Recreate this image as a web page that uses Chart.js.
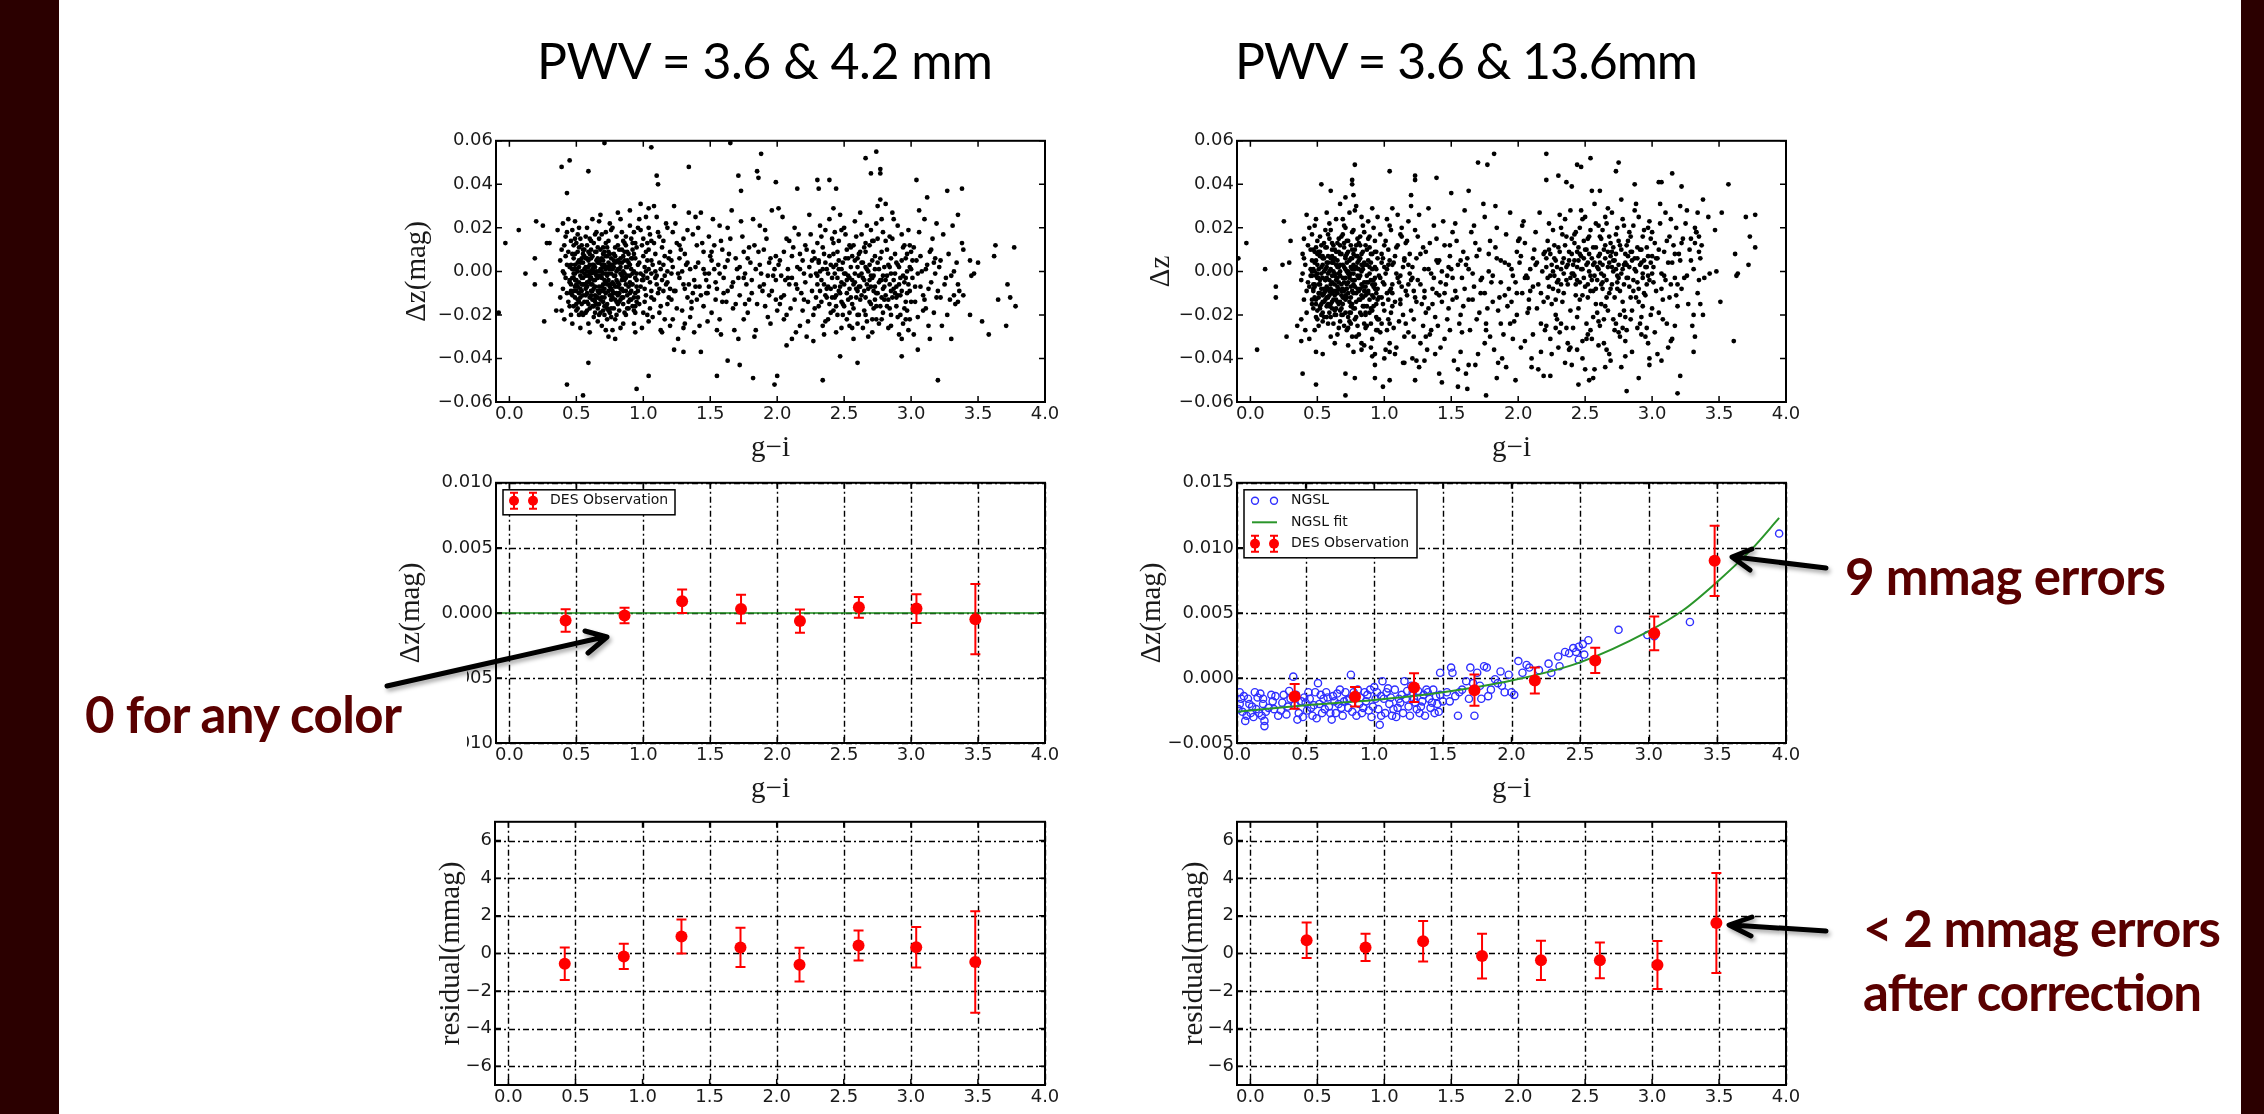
<!DOCTYPE html>
<html>
<head>
<meta charset="utf-8">
<script src="https://cdn.jsdelivr.net/npm/chart.js@4.4.1/dist/chart.umd.min.js"></script>
<style>
  html, body { margin: 0; padding: 0; }
  body { width: 2264px; height: 1114px; overflow: hidden; background: #fff; position: relative; }
  .stripe { position: absolute; top: 0; height: 1114px; background: #2b0000; }
  canvas { position: absolute; }
  #overlay { position: absolute; left: 0; top: 0; }
</style>
</head>
<body>
<div class="stripe" style="left:0;width:59px"></div>
<div class="stripe" style="left:2241px;width:23px"></div>

<canvas id="topLeft"></canvas>
<canvas id="topRight"></canvas>
<canvas id="midLeft"></canvas>
<canvas id="midRight"></canvas>
<canvas id="botLeft"></canvas>
<canvas id="botRight"></canvas>

<svg id="overlay" width="2264" height="1114" xmlns="http://www.w3.org/2000/svg">
  <defs>
    <filter id="shadow" x="-10%" y="-80%" width="130%" height="300%">
      <feDropShadow dx="2" dy="3" stdDeviation="2" flood-color="#000" flood-opacity="0.35"/>
    </filter>
  </defs>
  <!-- text box of the left annotation hides part of the tick labels -->
  <rect x="59" y="664" width="408" height="136" fill="#fff"/>
  <g font-family="Lato, 'Open Sans', sans-serif" fill="#000" font-size="50">
    <text x="537" y="79" textLength="456">PWV = 3.6 &amp; 4.2 mm</text>
    <text x="1235" y="79" textLength="463">PWV = 3.6 &amp; 13.6mm</text>
  </g>
  <g font-family="Lato, 'Open Sans', sans-serif" font-weight="bold" font-size="51" fill="#5a0000">
    <text x="85" y="733" textLength="317">0 for any color</text>
    <text x="1845" y="595" textLength="321">9 mmag errors</text>
    <text x="1863" y="947" textLength="358">&lt; 2 mmag errors</text>
    <text x="1863" y="1011" textLength="339">after correction</text>
  </g>
  <g stroke="#000" stroke-width="5" fill="none" stroke-linecap="round" stroke-linejoin="round" filter="url(#shadow)">
    <path d="M387 686 L604 637 M585 631 L607 637 L588 653"/>
    <path d="M1826 568 L1735 557 M1752 549 L1732 557 L1750 570"/>
    <path d="M1826 931 L1732 925 M1752 917 L1729 925 L1751 936"/>
  </g>
</svg>

<script>
// axis ticks
const giTicks = [0, 0.5, 1, 1.5, 2, 2.5, 3, 3.5, 4];
const dzWideTicks = [-0.06, -0.04, -0.02, 0, 0.02, 0.04, 0.06];
const dzLowTicks = [-0.01, -0.005, 0, 0.005, 0.01];
const dzHighTicks = [-0.005, 0, 0.005, 0.01, 0.015];
const residTicks = [-6, -4, -2, 0, 2, 4, 6];

// stars, PWV 3.6 & 4.2 mm : pairs of (g-i x100, dz in mmag)
const scatterLowPwv = [
  38,5, 40,-8, 41,12, 42,-3, 43,18, 44,-14, 45,2, 39,-18, 40,22, 41,-1, 42,7, 43,-10, 44,9, 45,-5, 46,14, 38,-12, 46,-20, 44,24, 41,-22, 43,3, 45,-16, 42,16, 40,0, 46,-9, 39,10,
  47,-3, 48,6, 49,-12, 50,1, 51,-7, 52,11, 53,-2, 54,-15, 55,4, 47,19, 48,-9, 49,3, 50,-18, 51,9, 52,-5, 53,15, 54,0, 55,-11, 56,7, 47,-24, 49,23, 50,-4, 51,-13, 52,2, 53,-8, 54,12, 55,-20, 56,-1, 48,-16, 50,13, 52,-10, 54,6, 56,-6, 47,8, 49,-1, 51,17, 53,-26, 55,10, 56,-14, 48,1, 50,-9, 52,20, 54,-3, 49,-7, 53,5,
  57,2, 58,-10, 59,5, 60,-4, 61,14, 62,-13, 63,0, 64,-7, 65,9, 66,-17, 57,-6, 58,12, 59,-15, 60,3, 61,-9, 62,7, 63,-21, 64,17, 65,-2, 66,4, 57,-19, 58,0, 59,9, 60,-12, 61,-3, 62,24, 63,-8, 64,2, 65,-15, 66,11, 57,16, 58,-5, 59,-24, 60,8, 61,-1, 62,-6, 63,13, 64,-11, 65,5, 66,-9, 57,-11, 58,20, 59,-2, 60,-28, 61,6, 62,-16, 63,3, 64,-4, 65,18, 66,-23, 58,-14, 60,15, 62,1, 64,-19, 66,-3,
  67,0, 68,-9, 69,6, 70,-14, 71,3, 72,-5, 73,11, 74,-18, 75,1, 76,-8, 67,15, 68,-2, 69,-12, 70,8, 71,-20, 72,13, 73,-6, 74,4, 75,-11, 76,19, 67,-7, 68,10, 69,-25, 70,-1, 71,9, 72,-16, 73,2, 74,-4, 75,22, 76,-13, 67,-15, 68,5, 69,17, 70,-9, 71,-4, 72,1, 73,-22, 74,14, 75,-6, 76,6, 67,23, 68,-19, 69,0, 70,11, 71,-12, 72,-27, 73,7, 74,-9, 75,3, 76,-1, 68,26, 70,-6, 72,18, 74,-30, 76,-17,
  77,3, 78,-10, 79,7, 80,-4, 81,-15, 82,10, 83,-1, 84,-8, 85,14, 86,-19, 77,-12, 78,2, 79,-22, 80,16, 81,5, 82,-6, 83,-13, 84,4, 85,-3, 86,9, 77,20, 78,-17, 79,-2, 80,-10, 81,12, 82,1, 83,-26, 84,18, 85,-9, 86,-4, 77,-5, 79,11, 81,-7, 83,24, 85,0, 78,8, 80,-20, 82,-14, 84,-2, 86,13, 77,-27, 79,-31, 81,27, 83,6, 85,-24,
  87,2, 88,-11, 89,8, 90,-5, 91,15, 92,-16, 93,0, 94,-3, 95,11, 96,-9, 87,-20, 88,5, 89,-7, 90,21, 91,-13, 92,6, 93,-24, 94,13, 95,-1, 96,3, 87,12, 89,-17, 91,1, 93,18, 95,-14, 88,-2, 90,-10, 92,-6, 94,-19, 96,20, 87,-6, 90,28, 92,10, 94,-28, 96,-12,
  97,4, 98,-7, 99,12, 100,-2, 101,-14, 102,9, 103,-20, 104,1, 105,17, 106,-9, 97,-15, 98,19, 99,-4, 100,7, 101,2, 102,-11, 103,13, 104,-23, 105,-5, 106,5, 97,24, 98,-1, 99,-26, 100,15, 101,-8, 102,25, 103,-3, 104,10, 105,-17, 106,-1, 98,31, 100,-19, 102,0, 104,29, 106,14,
  107,3, 108,-13, 109,8, 110,-6, 111,18, 112,-19, 113,1, 114,11, 115,-9, 116,-2, 117,22, 118,-15, 119,6, 120,-25, 107,-21, 108,13, 109,-3, 110,25, 111,-10, 112,4, 113,-16, 114,-28, 115,14, 116,7, 117,-6, 118,0, 119,-12, 120,9, 108,30, 110,-2, 112,16, 114,-4, 116,-22, 118,20, 120,-8,
  121,5, 123,-9, 125,13, 127,-3, 129,-18, 131,8, 133,-12, 135,1, 137,17, 139,-7, 122,-22, 124,22, 126,-1, 128,10, 130,-26, 132,3, 134,27, 136,-14, 138,-4, 140,12, 121,-13, 123,30, 125,-17, 127,6, 129,0, 131,-8, 133,19, 135,-21, 137,-10, 139,25, 122,2, 126,-31, 130,15, 134,-6, 138,-28,
  141,4, 143,-11, 145,9, 147,-4, 149,16, 151,-19, 153,1, 155,-8, 157,21, 159,-14, 142,-25, 144,13, 146,-1, 148,-23, 150,7, 152,24, 154,-13, 156,3, 158,-29, 160,-3, 141,20, 145,-16, 149,-7, 153,12, 157,-22, 143,27, 147,-10, 151,5, 155,-27, 159,10,
  161,2, 163,-9, 165,15, 167,-17, 169,6, 171,-3, 173,23, 175,-22, 177,-6, 179,11, 162,-14, 164,8, 166,28, 168,-27, 170,1, 172,-11, 174,16, 176,-1, 178,-19, 180,4, 163,20, 167,-5, 171,-31, 175,9, 179,-13,
  181,-4, 183,12, 185,-15, 187,3, 189,-9, 191,19, 193,-21, 195,6, 197,-2, 199,-13, 182,24, 184,-27, 186,9, 188,-1, 190,-6, 192,15, 194,-11, 196,28, 198,1, 200,-18, 183,-30, 187,21, 191,-16, 195,-24, 199,7,
  201,3, 203,-12, 205,9, 207,-20, 209,14, 211,-3, 213,20, 215,-8, 217,-25, 219,5, 202,-15, 204,25, 206,-4, 208,1, 210,-17, 212,11, 214,-28, 216,17, 218,-10, 220,-1, 201,29, 205,-22, 209,-6, 213,-13, 217,8, 203,-2, 207,15, 211,-31, 215,2, 219,-18,
  221,-5, 222,10, 223,-14, 224,2, 225,17, 226,-9, 227,-20, 228,6, 229,-1, 230,13, 231,-16, 232,21, 233,-4, 234,-25, 235,8, 236,-11, 237,1, 238,-7, 239,24, 240,-19, 221,12, 223,-23, 225,-2, 227,9, 229,-12, 231,4, 233,16, 235,-29, 237,-8, 239,-15, 222,-30, 224,26, 226,5, 228,-17, 230,-6, 232,0, 234,11, 236,19, 238,-22, 240,3,
  241,-3, 242,8, 243,-12, 244,3, 245,-20, 246,14, 247,-7, 248,1, 249,-15, 250,20, 251,-1, 252,-10, 253,6, 254,-25, 255,11, 256,-4, 257,-17, 258,23, 259,-8, 260,2, 241,15, 242,-18, 243,-1, 244,-28, 245,9, 246,-9, 247,26, 248,-14, 249,4, 250,-6, 251,17, 252,-22, 253,-2, 254,12, 255,-12, 256,7, 257,-31, 258,-5, 259,16, 260,-20, 242,29, 244,-11, 246,1, 248,19, 250,-16, 252,10, 254,-3, 256,-26, 258,5, 260,-9,
  261,-2, 262,9, 263,-11, 264,4, 265,-18, 266,13, 267,-6, 268,0, 269,-14, 270,19, 271,-3, 272,-9, 273,7, 274,-22, 275,15, 276,-5, 277,-16, 278,24, 279,-8, 280,2, 261,-20, 262,27, 263,-1, 264,-26, 265,11, 266,-12, 267,21, 268,-30, 269,3, 270,-7, 271,14, 272,-17, 273,1, 274,-10, 275,30, 276,-24, 277,6, 278,-4, 279,18, 280,-13, 261,8, 263,17, 265,-4, 267,-23, 269,12, 271,-28, 273,-13, 275,4, 277,33, 279,-19, 262,-7, 266,2, 270,-2, 274,22, 278,-12,
  281,-4, 282,10, 283,-13, 284,2, 285,-20, 286,15, 287,-8, 288,-1, 289,-16, 290,21, 291,-6, 292,-11, 293,5, 294,-24, 295,12, 296,-3, 297,-18, 298,19, 299,-9, 300,1, 281,14, 283,-26, 285,6, 287,24, 289,-12, 291,-29, 293,17, 295,-5, 297,8, 299,-22, 282,-2, 284,-17, 286,27, 288,-10, 290,3, 292,-20, 294,11, 296,-14, 298,-27, 300,9, 281,31, 285,-9, 289,4, 293,-31, 297,0,
  301,-3, 302,11, 303,-14, 304,5, 305,-21, 306,18, 307,-7, 308,0, 309,-11, 310,24, 311,-17, 312,3, 313,-25, 314,9, 315,-5, 316,15, 317,-19, 318,-1, 319,22, 320,-9, 302,-29, 306,28, 310,-13, 314,-31, 318,6,
  321,2, 322,-12, 324,17, 325,-6, 327,-20, 328,8, 330,-2, 331,21, 333,-15, 334,4, 336,-9, 338,13, 323,-25, 335,26,
  45,-4, 46,3, 47,-11, 48,-1, 49,8, 50,-6, 51,0, 52,-14, 53,4, 54,-9, 55,-3, 56,1, 57,-8, 58,6, 59,-5, 60,-1, 61,-11, 62,3, 63,-4, 64,9, 65,-12, 66,-2, 67,4, 68,-13, 69,-3, 70,2, 71,-8, 72,7, 73,-15, 74,-1, 75,-7, 76,3, 77,-9, 78,5, 79,-13, 80,0, 81,-5, 82,4, 83,-8, 84,10, 85,-12, 86,-1, 87,-9, 88,2, 89,-14, 90,3, 91,-6, 92,-1, 93,8, 94,-10, 95,-4,
  46,-10, 48,12, 50,-15, 52,5, 54,-19, 56,10, 58,-7, 60,-17, 62,-9, 64,-14, 66,6, 68,1, 70,-18, 72,-10, 74,9, 76,-21, 78,-6, 80,-14, 82,-18, 84,-12, 86,5, 88,-17, 90,-13, 92,13, 94,6,
  47,1, 49,-4, 51,-17, 53,-12, 55,8, 57,-2, 59,2, 61,10, 63,-13, 65,0, 67,-10, 69,3, 71,-16, 73,-2, 75,8, 77,1, 79,4, 81,-11, 83,2, 85,7, 87,-3, 89,4, 91,-9, 93,-12, 95,-7,
  46,-6, 49,15, 52,-20, 55,-6, 58,-18, 61,-6, 64,-1, 67,-20, 70,5, 73,-17, 76,-11, 79,-7, 82,-10, 85,-15, 88,9, 91,6, 94,-16,
  48,-3, 51,4, 54,-6, 57,6, 60,0, 63,-16, 66,-12, 69,-7, 72,-1, 75,-19, 78,-2, 81,1, 84,-4, 87,16, 90,-2, 93,-18,
  100,-4, 103,5, 106,-12, 109,0, 112,-8, 115,3, 118,-5, 121,-1, 124,-9, 127,12, 130,-6, 133,4, 136,-17, 139,2, 142,-7, 145,1, 148,-10, 151,9, 154,-5, 157,-1, 160,-10, 163,5, 166,-7, 169,-15, 172,2, 175,-3, 178,6, 181,-10, 184,1, 187,-7, 190,10, 193,-2, 196,-9, 199,-4, 202,5, 205,-11, 208,-3, 211,7, 214,-6, 217,1, 220,-13, 104,20, 113,-27, 122,18, 131,-24, 140,-13, 149,-1, 158,14, 176,-15, 194,4,
  230,-2, 231,5, 232,-9, 233,-14, 234,1, 235,-6, 236,4, 237,-12, 238,-1, 239,7, 240,-8, 241,-12, 242,2, 243,-7, 244,-16, 245,-3, 246,5, 247,-10, 248,-5, 249,-20, 250,-1, 251,6, 252,-4, 253,-13, 254,-8, 255,2, 256,-15, 257,-6, 258,-1, 259,-12, 260,6, 261,-7, 262,-13, 263,4, 264,-3, 265,-9, 266,-20, 267,1, 268,-8, 269,-4, 270,-15, 271,5, 272,-2, 273,-7, 274,-16, 275,-10, 276,1, 277,-4, 278,9, 279,-2, 280,-7, 281,-11, 282,-16, 283,3, 284,-6, 285,-1, 286,-12, 287,-4, 288,8, 289,-7, 290,-11, 291,2, 292,-3, 293,-9, 294,-2, 295,-17, 296,6, 297,-10, 298,-6, 299,2, 300,-14,
  236,-23, 242,13, 248,-26, 254,-19, 260,-24, 266,9, 272,14, 278,-22, 284,16, 290,-21, 296,-22, 243,18, 257,12, 271,-22, 285,-25, 299,12,
  301,5, 303,-7, 305,-1, 307,7, 309,-18, 311,1, 313,-8, 315,10, 317,4, 319,-12, 322,5, 326,-3, 329,-13, 332,0, 335,-6,
  -3,13, 7,19, 12,-1, 19,6, 20,23, 19,-6, 25,21, 26,-23, 27,0, 28,13, 30,13, 31,-6, 35,-18, 36,19, 39,48, 45,51, 43,-52, 55,-57, 59,46, 59,-42, 43,36, 71,59, 106,57, 95,-54, 104,-48, 110,44, 111,40, 134,48, 123,-36, 130,-37, 143,-37, 155,-48, 163,-41, 172,-43, 165,59, 171,44, 173,37, 182,-49, 188,54, 185,46, 186,43,
  266,52, 274,55, 270,45, 277,45, 277,47, 199,41, 230,42, 239,42, 215,38, 231,38, 244,38, 304,42, 312,34, 327,37, 338,38, 363,12, 377,11, 362,7, 372,-6, 365,-13, 374,-12, 378,-16, 371,-25, 358,-29, 353,-23, 344,-20, 330,-31, 198,-52, 200,-48, 234,-50, 320,-50, 260,-42, 247,-39, 293,-39, 305,-36, 227,-32, 207,-34, 339,10, 344,5, 347,-1, 350,4, 339,-11, 332,-11, 335,-14, 345,-2, -8,-19
];

// stars, PWV 3.6 & 13.6 mm : pairs of (g-i x100, dz in mmag)
const scatterHighPwv = [
  38,-4, 39,8, 40,-13, 41,3, 42,-19, 43,12, 44,-7, 45,1, 46,17, 38,-22, 40,6, 42,-9, 44,20, 46,-15, 39,-1, 41,-27, 43,-5, 45,10, 46,-2, 44,-31, 40,15, 42,26,
  47,-6, 48,4, 49,-15, 50,-1, 51,9, 52,-10, 53,2, 54,-19, 55,13, 56,-4, 47,10, 48,-12, 49,5, 50,-22, 51,-3, 52,16, 53,-8, 54,7, 55,-14, 56,1, 47,-17, 48,21, 49,-2, 50,8, 51,-25, 52,-6, 53,12, 54,-11, 55,0, 56,19, 48,-27, 50,14, 52,-16, 54,3, 56,-9, 49,24, 51,-12, 53,-20, 55,6, 47,1, 48,-7, 50,-3, 52,9, 54,-23, 56,-13,
  57,-3, 58,7, 59,-11, 60,1, 61,-17, 62,12, 63,-6, 64,3, 65,-14, 66,9, 57,-21, 58,-1, 59,15, 60,-8, 61,4, 62,-24, 63,10, 64,-13, 65,2, 66,-5, 57,11, 58,-15, 59,-4, 60,19, 61,-10, 62,0, 63,-18, 64,24, 65,-7, 66,-26, 57,4, 58,17, 59,-9, 60,-30, 61,7, 62,-13, 63,-1, 64,-20, 65,13, 66,2, 57,-12, 59,22, 61,-2, 63,6, 65,-29, 58,-8, 60,-15, 62,5, 64,-4, 66,15, 57,27, 59,-19, 61,13, 63,-33, 65,-10,
  67,-2, 68,8, 69,-12, 70,2, 71,-19, 72,14, 73,-5, 74,5, 75,-16, 76,10, 67,-23, 68,-6, 69,17, 70,-9, 71,1, 72,-27, 73,9, 74,-14, 75,-1, 76,-4, 67,12, 68,-17, 69,-3, 70,21, 71,-11, 72,4, 73,-21, 74,27, 75,-7, 76,-30, 67,3, 68,16, 69,-8, 70,-25, 71,7, 72,-12, 73,0, 74,-19, 75,12, 76,1, 67,-14, 69,24, 71,-3, 73,-34, 75,6, 68,-9, 70,11, 72,-6, 74,-2, 76,18, 67,31, 69,-20, 71,20, 73,14, 75,-24,
  77,-1, 78,10, 79,-14, 80,4, 81,-9, 82,16, 83,-20, 84,1, 85,-5, 86,12, 77,-17, 78,-4, 79,7, 80,-25, 81,13, 82,-2, 83,-11, 84,21, 85,-16, 86,-7, 77,8, 78,-22, 79,2, 80,15, 81,-29, 82,6, 83,25, 84,-12, 85,3, 86,-19, 77,19, 79,-30, 81,-3, 83,3, 85,-34, 78,28, 80,-8, 82,-13, 84,9, 86,-26, 77,-10, 79,30, 81,1, 83,-6, 85,18,
  87,3, 88,-9, 89,11, 90,-17, 91,1, 92,-4, 93,14, 94,-21, 95,6, 96,-12, 87,-25, 88,15, 89,-1, 90,8, 91,-31, 92,20, 93,-8, 94,-15, 95,25, 96,-2, 87,10, 89,-19, 91,-11, 93,2, 95,-27, 88,23, 90,-35, 92,-7, 94,9, 96,-22, 87,-5, 89,16, 91,29, 93,-38, 95,-13,
  97,-3, 98,8, 99,-15, 100,2, 101,14, 102,-10, 103,-22, 104,5, 105,19, 106,-6, 97,-28, 98,-12, 99,6, 100,-18, 101,-1, 102,24, 103,10, 104,-33, 105,-8, 106,3, 97,17, 98,-24, 99,-5, 100,12, 101,-36, 102,1, 103,-13, 104,21, 105,-19, 106,29, 98,4, 100,-40, 102,-27, 104,-9, 106,-16,
  107,4, 108,-14, 109,11, 110,-3, 111,-23, 112,17, 113,-7, 114,2, 115,-30, 116,13, 117,-11, 118,23, 119,-1, 120,-18, 107,-26, 108,7, 109,-35, 110,26, 111,-5, 112,-15, 113,20, 114,-20, 115,5, 116,-9, 117,14, 118,-28, 119,8, 120,-4, 108,-38, 110,12, 112,-2, 114,-42, 116,-24, 118,3, 120,30,
  121,2, 123,-12, 125,16, 127,-6, 129,-25, 131,9, 133,-17, 135,-1, 137,21, 139,-10, 122,-30, 124,6, 126,26, 128,-15, 130,1, 132,-36, 134,13, 136,-8, 138,-21, 140,4, 121,-40, 123,19, 125,-4, 127,-33, 129,11, 131,-19, 133,29, 135,-27, 137,-3, 139,15, 122,-9, 126,-44, 130,-12, 134,-29, 138,-38,
  141,5, 143,-14, 145,12, 147,-2, 149,-27, 151,18, 153,-9, 155,3, 157,-20, 159,9, 142,-35, 144,23, 146,-6, 148,-17, 150,1, 152,-41, 154,14, 156,-24, 158,-3, 160,28, 141,-11, 145,-31, 149,7, 153,22, 157,-37, 143,0, 147,-22, 151,-13, 155,-45, 159,-16,
  161,3, 163,-13, 165,18, 167,-7, 169,-22, 171,10, 173,-3, 175,25, 177,-17, 179,-30, 162,6, 164,-27, 166,-1, 168,13, 170,-38, 172,-10, 174,31, 176,-24, 178,8, 180,-5, 163,-43, 167,21, 171,-19, 175,-33, 179,14,
  181,-2, 183,11, 185,-18, 187,5, 189,-29, 191,17, 193,-8, 195,1, 197,-23, 199,9, 182,-36, 184,20, 186,-12, 188,-40, 190,4, 192,-16, 194,27, 196,-31, 198,-5, 200,14, 183,30, 187,-24, 191,-44, 195,-14, 199,-20,
  201,4, 203,-10, 205,13, 207,-19, 209,1, 211,-29, 213,18, 215,-6, 217,-24, 219,8, 202,-35, 204,23, 206,-2, 208,-13, 210,-40, 212,10, 214,-17, 216,27, 218,0, 220,-27, 201,15, 205,-32, 209,-9, 213,3, 217,-37, 203,21, 207,-3, 211,6, 215,-45, 219,-14,
  221,2, 222,14, 223,-7, 224,8, 225,-15, 226,19, 227,-2, 228,5, 229,-22, 230,11, 231,-28, 232,1, 233,17, 234,-10, 235,24, 236,-4, 237,-33, 238,9, 239,-18, 240,15, 221,-25, 223,22, 225,-38, 227,12, 229,-5, 231,26, 233,-14, 235,-42, 237,3, 239,28, 222,-12, 224,-31, 226,0, 228,-20, 230,-9, 232,20, 234,6, 236,-26, 238,-36, 240,-1,
  241,3, 242,13, 243,-6, 244,9, 245,-17, 246,20, 247,1, 248,-11, 249,6, 250,25, 251,-24, 252,4, 253,16, 254,-9, 255,-31, 256,11, 257,-2, 258,22, 259,-19, 260,7, 241,-26, 242,-2, 243,18, 244,-36, 245,5, 246,-13, 247,28, 248,-40, 249,14, 250,-7, 251,10, 252,-29, 253,0, 254,19, 255,-4, 256,-21, 257,31, 258,-15, 259,2, 260,-34, 242,17, 244,-4, 246,8, 248,24, 250,-45, 252,-12, 254,-27, 256,3, 258,-8, 260,21,
  261,4, 262,15, 263,-5, 264,10, 265,-16, 266,22, 267,2, 268,-10, 269,7, 270,27, 271,-22, 272,5, 273,17, 274,-8, 275,-28, 276,12, 277,-1, 278,24, 279,-18, 280,8, 261,-25, 262,-1, 263,19, 264,-33, 265,6, 266,-12, 267,29, 268,-38, 269,13, 270,-6, 271,11, 272,-27, 273,1, 274,20, 275,-3, 276,-20, 277,33, 278,-14, 279,3, 280,-32, 261,16, 263,-8, 265,25, 267,-18, 269,-41, 271,0, 273,-24, 275,14, 277,-44, 279,21, 262,-15, 266,-36, 270,9, 274,-2, 278,-26,
  281,3, 282,14, 283,-7, 284,9, 285,-18, 286,21, 287,1, 288,-12, 289,6, 290,25, 291,-24, 292,4, 293,16, 294,-10, 295,-30, 296,11, 297,-2, 298,23, 299,-20, 300,7, 281,-27, 283,18, 285,-37, 287,28, 289,-5, 291,10, 293,-16, 295,2, 297,-33, 299,15, 282,-3, 284,-22, 286,-9, 288,31, 290,-14, 292,-29, 294,19, 296,-6, 298,-40, 300,-17, 281,12, 285,5, 289,-26, 293,-1, 297,20,
  301,2, 302,13, 303,-9, 304,6, 305,-19, 306,22, 307,-1, 308,-13, 309,9, 310,27, 311,-24, 312,4, 313,16, 314,-6, 315,-31, 316,12, 317,-3, 318,20, 319,-16, 320,8, 302,-28, 304,-38, 306,31, 308,-22, 310,-4, 312,-35, 314,24, 318,-11,
  321,5, 322,-8, 323,15, 324,-3, 325,22, 327,-15, 328,10, 330,-25, 331,1, 333,18, 334,-10, 336,6, 338,-20, 326,28, 332,-30, 337,12,
  45,-2, 46,5, 47,-9, 48,0, 49,-13, 50,3, 51,-6, 52,-17, 53,-1, 54,6, 55,-10, 56,-4, 57,2, 58,-12, 59,0, 60,-6, 61,-14, 62,4, 63,-2, 64,-9, 65,5, 66,-15, 67,0, 68,-11, 69,3, 70,-5, 71,-13, 72,8, 73,-10, 74,-3, 75,2, 76,-15, 77,-6, 78,1, 79,-10, 80,7, 81,-3, 82,-8, 83,0, 84,-16, 85,4, 86,-11, 87,-2, 88,5, 89,-13, 90,-4, 91,8, 92,-12, 93,-6, 94,1, 95,-8,
  46,-13, 48,9, 50,-18, 52,-4, 54,-14, 56,11, 58,4, 60,-21, 62,-9, 64,9, 66,-1, 68,-20, 70,13, 72,-8, 74,-23, 76,6, 78,-17, 80,-2, 82,12, 84,-7, 86,-20, 88,-5, 90,4, 92,-16, 94,-10,
  47,-8, 49,11, 51,1, 53,-15, 55,-21, 57,-7, 59,-16, 61,10, 63,-11, 65,-3, 67,-18, 69,-9, 71,6, 73,-1, 75,-19, 77,3, 79,-21, 81,-13, 83,8, 85,-9, 87,-16, 89,2, 91,-6, 93,9, 95,-22,
  46,0, 49,-21, 52,7, 55,-8, 58,-24, 61,-5, 64,-17, 67,8, 70,-12, 73,-26, 76,-9, 79,12, 82,-19, 85,-24, 88,-10, 91,-18, 94,-27,
  48,-6, 51,-10, 54,-3, 57,-16, 60,6, 63,-20, 66,-8, 69,-15, 72,0, 75,-12, 78,-7, 81,5, 84,3, 87,-10, 90,-24, 93,-3,
  100,-6, 103,3, 106,-10, 109,-1, 112,-13, 115,6, 118,-6, 121,-3, 124,-14, 127,8, 130,-9, 133,1, 136,-15, 139,5, 142,-5, 145,-10, 148,2, 151,-3, 154,-12, 157,5, 160,-8, 163,1, 166,-13, 169,7, 172,-4, 175,-10, 178,0, 181,-14, 184,6, 187,-5, 190,-11, 193,3, 196,-2, 199,-10, 202,7, 205,-3, 208,-17, 211,-7, 214,4, 217,-10, 220,9, 104,-24, 113,16, 122,-22, 131,-30, 140,-25, 149,12, 158,-28, 176,-27, 194,-24,
  221,6, 222,-3, 223,10, 224,-2, 225,3, 226,-8, 227,6, 228,-13, 229,2, 230,-4, 231,9, 232,-6, 233,4, 234,-1, 235,12, 236,2, 237,-6, 238,5, 239,-3, 240,8, 241,-1, 242,5, 243,-11, 244,2, 245,11, 246,-5, 247,7, 248,1, 249,-3, 250,10, 251,3, 252,-6, 253,8, 254,-2, 255,6, 256,-9, 257,4, 258,11, 259,-4, 260,1, 261,8, 262,-6, 263,3, 264,-2, 265,12, 266,-4, 267,9, 268,4, 269,-8, 270,2, 271,5, 272,-12, 273,8, 274,-5, 275,3, 276,-9, 277,10, 278,1, 279,-6, 280,4, 281,-3, 282,7, 283,2, 284,-12, 285,9, 286,-4, 287,6, 288,0, 289,11, 290,-8, 291,3, 292,10, 293,-3, 294,5, 295,-11, 296,2, 297,7, 298,-4, 299,4, 300,-1,
  228,-26, 236,16, 244,-21, 252,15, 260,-23, 268,16, 276,-30, 284,16, 292,-21, 300,18, 232,-24, 248,-32, 264,-22, 280,-21, 296,-26,
  301,-5, 303,6, 305,10, 307,-8, 309,-2, 311,14, 313,-12, 315,4, 317,8, 319,-6, 322,13, 326,-2, 329,5, 332,20, 335,-4,
  -9,6, -3,13, 5,-36, 11,1, 19,-7, 19,-12, 24,3, 29,4, 25,23, 30,14, 27,-30, 35,-25, 39,-47, 38,-32, 49,-52, 53,40, 60,37, 78,49, 76,42, 76,40, 71,34, 77,35, 104,46, 123,44, 123,42, 120,35, 139,43, 150,36, 163,37, 170,50, 177,49, 182,54,
  71,-47, 78,-49, 71,-57, 93,-49, 104,-50, 99,-53, 115,-42, 124,-41, 130,-41, 123,-50, 141,-47, 143,-51, 155,-53, 162,-54, 161,-47, 168,-43, 176,-57, 184,-49, 185,-42, 49,-37, 54,-38, 77,-37, 83,-36, 83,-33, 91,-39, 93,-43, 104,-37,
  221,54, 254,52, 244,49, 247,48, 275,50, 273,46, 221,42, 230,44, 236,41, 240,39, 255,37, 261,37, 287,40, 305,41, 307,41, 315,45, 322,39, 357,40, 338,33, 370,25, 377,26, 373,16, 377,11, 372,3, 364,-1, 363,-2, 362,8, 351,-14, 336,-15, 361,-32, 331,-37, 321,-48, 319,-56,
  281,-55, 307,-41, 298,-43, 290,-49, 198,-50, 219,-48, 224,-48, 245,-52, 253,-50, 256,-49, 240,-43, 257,-45, 265,-44, 280,-39, 210,-44, 230,-35, 239,-35, 251,-31, 317,-25, 314,-32, 331,-20, 339,-3, 343,-1, 348,0, 335,9, 329,15, 332,13, 335,16, 333,18, 342,25, 334,27, 352,27, 347,19, 321,30
];

// NGSL library stars, PWV 3.6 & 13.6 mm : pairs of (g-i, dz in mmag)
const ngslStars = [
  0.02,-1.1, 0.02,-2.0, 0.04,-2.6, 0.06,-3.3, 0.08,-1.6, 0.11,-2.2, 0.15,-1.5, 0.16,-2.7, 0.19,-2.0, 0.20,-3.3, 0.20,-3.7, 0.19,-1.6,
  0.28,-1.4, 0.32,-2.5, 0.37,-2.2, 0.41,0.1, 0.45,-2.7, 0.48,-3.0, 0.50,-1.9, 0.54,-2.3, 0.57,-1.1, 0.59,-0.4, 0.62,-2.7, 0.63,-1.6,
  0.67,-2.2, 0.70,-1.4, 0.72,-2.7, 0.75,-0.9, 0.78,-1.8, 0.81,-2.3, 0.83,0.25, 0.86,-1.4, 0.89,-2.0, 0.93,-1.1, 0.96,-2.5, 0.97,-0.9,
  1.01,-1.6, 1.04,-3.6, 1.05,-2.9, 1.06,-0.25, 1.09,-1.1, 1.11,-2.0, 1.14,-2.4, 1.15,-0.9, 1.18,-1.6, 1.22,-0.25, 1.25,-2.2, 1.28,-1.1,
  1.31,-2.4, 1.35,-1.8, 1.38,-0.9, 1.41,-2.3, 1.44,-2.7, 1.48,-1.3, 1.48,0.4, 1.53,-1.1, 1.56,0.8, 1.57,0.4, 1.59,-1.4, 1.61,-2.9,
  1.64,-0.9, 1.67,-0.25, 1.70,0.8, 1.73,-2.9, 1.75,0.4, 1.78,-1.6, 1.80,0.9, 1.82,0.8, 1.85,-0.9, 1.88,-0.1, 1.92,0.5, 1.93,-0.6,
  1.95,-1.1, 1.98,0.25, 2.00,-1.1, 2.02,-1.3, 2.05,1.3, 2.08,0.4, 2.11,1.0, 2.13,0.8, 2.20,0.6, 2.27,1.1, 2.29,0.4, 2.34,1.65, 2.35,0.9,
  2.39,2.0, 2.42,1.9, 2.45,2.3, 2.47,2.0, 2.49,2.4, 2.49,1.4, 2.52,2.6, 2.53,1.8, 2.56,2.9, 2.78,3.7, 2.99,3.3, 3.04,3.2, 3.30,4.3, 3.95,11.1,
  0.03,-1.6, 0.10,-2.7, 0.13,-1.1, 0.23,-2.3, 0.26,-1.8, 0.30,-2.9, 0.34,-1.3, 0.39,-1.6, 0.43,-1.3, 0.49,-1.5, 0.52,-1.1, 0.55,-2.9,
  0.60,-2.0, 0.65,-1.1, 0.68,-2.7, 0.71,-1.8, 0.76,-2.3, 0.79,-1.1, 0.82,-1.6, 0.88,-0.9, 0.91,-2.7, 0.94,-1.8, 0.99,-2.2, 1.02,-1.1,
  1.07,-1.6, 1.10,-0.8, 1.13,-2.9, 1.17,-2.3, 1.20,-1.3, 1.23,-1.6, 1.27,-0.6, 1.30,-1.9, 1.33,-2.7, 1.36,-1.3, 1.40,-1.6, 1.43,-0.9, 1.46,-2.0,
  0.01,-2.4, 0.05,-1.4, 0.07,-2.9, 0.09,-2.0, 0.12,-3.0, 0.14,-2.4, 0.17,-1.2, 0.18,-2.9, 0.21,-2.6, 0.25,-1.3, 0.27,-2.4, 0.33,-1.9,
  0.36,-2.8, 0.38,-1.0, 0.42,-2.1, 0.44,-3.2, 0.47,-1.8, 0.51,-2.5, 0.53,-1.6, 0.56,-2.1, 0.58,-3.1, 0.61,-1.3, 0.64,-2.4, 0.66,-1.5,
  0.69,-3.2, 0.73,-1.2, 0.74,-2.0, 0.77,-2.9, 0.80,-1.7, 0.84,-2.6, 0.85,-1.1, 0.87,-2.9, 0.90,-1.5, 0.92,-2.3, 0.95,-1.3, 0.98,-3.0,
  1.00,-0.7, 1.03,-2.4, 1.05,-1.4, 1.08,-2.7, 1.12,-1.5, 1.16,-3.0, 1.19,-1.9, 1.21,-2.7, 1.24,-1.0, 1.26,-2.9, 1.29,-1.6, 1.32,-1.0,
  1.34,-2.2, 1.37,-2.9, 1.39,-1.1, 1.42,-1.9, 1.45,-1.4, 1.47,-2.6, 1.50,-1.8, 1.55,-1.8, 1.62,-1.1, 1.69,-1.6, 1.72,-0.4, 1.77,-0.6,
  1.83,-1.4, 1.90,-0.4
];

// NGSL fit curves (dz in mmag)
const fitGiLowPwv = [-0.1, 4.0];
const fitDzLowPwv = [0, 0];
const fitGiHighPwv = [0, 0.5, 1, 1.5, 2, 2.5, 3, 3.25, 3.5, 3.75, 3.95];
const fitDzHighPwv = [-2.6, -2.1, -1.7, -1.1, -0.2, 1.2, 3.6, 5.2, 7.4, 9.9, 12.3];

// DES observations, binned in g-i (mmag)
const desGi = [0.42, 0.86, 1.29, 1.73, 2.17, 2.61, 3.04, 3.48];
const desDzLowPwv = [-0.58, -0.20, 0.89, 0.30, -0.63, 0.43, 0.33, -0.48];
const desErrLowPwv = [0.86, 0.60, 0.90, 1.10, 0.90, 0.80, 1.10, 2.70];
const desDzHighPwv = [-1.42, -1.45, -0.74, -0.94, -0.20, 1.35, 3.43, 9.00];
const desErrHighPwv = [0.95, 0.75, 1.10, 1.20, 1.00, 0.97, 1.30, 2.70];
const residLowPwv = [-0.55, -0.16, 0.90, 0.32, -0.60, 0.42, 0.33, -0.46];
const residErrLowPwv = [0.86, 0.67, 0.90, 1.04, 0.90, 0.80, 1.08, 2.70];
const residHighPwv = [0.70, 0.32, 0.65, -0.14, -0.37, -0.37, -0.62, 1.62];
const residErrHighPwv = [0.94, 0.72, 1.08, 1.19, 1.04, 0.95, 1.28, 2.66];

function pairs(flat, sx, sy) {
  const out = [];
  for (let i = 0; i < flat.length; i += 2) out.push({ x: flat[i] * sx, y: flat[i + 1] * sy });
  return out;
}
function zip(xs, ys, s) {
  return xs.map((x, i) => ({ x: x, y: ys[i] * s }));
}
const fmt = d => v => Number(v).toFixed(d).replace('-', '\u2212');

// grid, inward ticks and frame like matplotlib
const framePlugin = {
  id: 'frame',
  beforeDatasetsDraw(chart, args, opts) {
    if (!opts.grid) return;
    const { ctx, chartArea: a, scales: { x, y } } = chart;
    ctx.save();
    ctx.strokeStyle = '#000';
    ctx.lineWidth = 1.4;
    ctx.setLineDash([6, 3, 2, 3]);
    ctx.beginPath();
    x.ticks.forEach(t => {
      const px = Math.round(x.getPixelForValue(t.value)) + 0.5;
      ctx.moveTo(px, a.top); ctx.lineTo(px, a.bottom);
    });
    y.ticks.forEach(t => {
      const py = Math.round(y.getPixelForValue(t.value)) + 0.5;
      ctx.moveTo(a.left, py); ctx.lineTo(a.right, py);
    });
    ctx.stroke();
    ctx.restore();
  },
  afterDatasetsDraw(chart) {
    const { ctx, chartArea: a, scales: { x, y } } = chart;
    ctx.save();
    ctx.strokeStyle = '#000';
    ctx.lineWidth = 1.5;
    ctx.beginPath();
    x.ticks.forEach(t => {
      const px = x.getPixelForValue(t.value);
      ctx.moveTo(px, a.bottom); ctx.lineTo(px, a.bottom - 6);
      ctx.moveTo(px, a.top); ctx.lineTo(px, a.top + 6);
    });
    y.ticks.forEach(t => {
      const py = y.getPixelForValue(t.value);
      ctx.moveTo(a.left, py); ctx.lineTo(a.left + 6, py);
      ctx.moveTo(a.right, py); ctx.lineTo(a.right - 6, py);
    });
    ctx.stroke();
    ctx.lineWidth = 2;
    ctx.strokeRect(a.left, a.top, a.right - a.left, a.bottom - a.top);
    ctx.restore();
  }
};

// vertical error bars drawn under the markers
const errorBarPlugin = {
  id: 'errorBars',
  beforeDatasetDraw(chart, args) {
    const ds = chart.data.datasets[args.index];
    if (!ds.errors) return;
    const { ctx, scales: { x, y } } = chart;
    ctx.save();
    ctx.strokeStyle = ds.backgroundColor;
    ctx.lineWidth = 2;
    ds.data.forEach((p, i) => {
      const px = x.getPixelForValue(p.x);
      const y1 = y.getPixelForValue(p.y + ds.errors[i]);
      const y2 = y.getPixelForValue(p.y - ds.errors[i]);
      ctx.beginPath();
      ctx.moveTo(px, y1); ctx.lineTo(px, y2);
      ctx.moveTo(px - 5, y1); ctx.lineTo(px + 5, y1);
      ctx.moveTo(px - 5, y2); ctx.lineTo(px + 5, y2);
      ctx.stroke();
    });
    ctx.restore();
  }
};

// matplotlib-like legend box in the upper left corner
const boxLegendPlugin = {
  id: 'boxLegend',
  afterDraw(chart, args, opts) {
    if (!opts.order) return;
    const { ctx, chartArea: a } = chart;
    const bx = a.left + 7, by = a.top + 7, rowH = 21.5;
    const w = opts.width, h = opts.order.length * rowH + 3.5;
    ctx.save();
    ctx.fillStyle = '#fff';
    ctx.fillRect(bx, by, w, h);
    ctx.strokeStyle = '#000';
    ctx.lineWidth = 1.5;
    ctx.strokeRect(bx, by, w, h);
    opts.order.forEach((di, r) => {
      const ds = chart.data.datasets[di];
      const cy = by + 11 + r * rowH;
      const m1 = bx + 11, m2 = bx + 30;
      if (ds.errors) {
        ctx.strokeStyle = ds.backgroundColor;
        ctx.fillStyle = ds.backgroundColor;
        ctx.lineWidth = 2;
        [m1, m2].forEach(m => {
          ctx.beginPath();
          ctx.moveTo(m, cy - 8); ctx.lineTo(m, cy + 8);
          ctx.moveTo(m - 4, cy - 8); ctx.lineTo(m + 4, cy - 8);
          ctx.moveTo(m - 4, cy + 8); ctx.lineTo(m + 4, cy + 8);
          ctx.stroke();
          ctx.beginPath(); ctx.arc(m, cy, 5, 0, Math.PI * 2); ctx.fill();
        });
      } else if (ds.showLine) {
        ctx.strokeStyle = ds.borderColor;
        ctx.lineWidth = 2;
        ctx.beginPath(); ctx.moveTo(m1 - 3, cy); ctx.lineTo(m2 + 3, cy); ctx.stroke();
      } else {
        ctx.strokeStyle = ds.borderColor;
        ctx.lineWidth = 1.4;
        [m1, m2].forEach(m => { ctx.beginPath(); ctx.arc(m, cy, 3.5, 0, Math.PI * 2); ctx.stroke(); });
      }
      ctx.fillStyle = '#111';
      ctx.font = '14px "DejaVu Sans"';
      ctx.textBaseline = 'middle';
      ctx.fillText(ds.label, bx + 47, cy);
    });
    ctx.restore();
  }
};

function makePanel(id, box, o) {
  const W = Math.round(o.titleGap + 17.4), H = 64, PT = 12, PR = 24;
  const cv = document.getElementById(id);
  cv.width = W + box.r - box.l + PR;
  cv.height = PT + box.b - box.t + H;
  cv.style.left = (box.l - W) + 'px';
  cv.style.top = (box.t - PT) + 'px';
  const tickFont = { family: 'DejaVu Sans', size: 18 };
  const titleFont = { family: 'Liberation Serif', size: 29 };
  return new Chart(cv, {
    type: 'scatter',
    data: { datasets: o.datasets },
    plugins: [framePlugin, errorBarPlugin, boxLegendPlugin],
    options: {
      responsive: false,
      animation: false,
      events: [],
      layout: { padding: { top: PT, right: PR, left: 0, bottom: 0 } },
      scales: {
        x: {
          type: 'linear', min: o.xMin, max: 4.0,
          afterBuildTicks: s => { s.ticks = giTicks.map(v => ({ value: v })); },
          afterFit: s => { s.height = H; },
          grid: { display: false, drawTicks: false },
          border: { display: false },
          ticks: { autoSkip: false, maxRotation: 0, padding: 2, color: '#1a1a1a', font: tickFont, callback: fmt(1) },
          title: { display: true, text: 'g\u2212i', color: '#1a1a1a', font: titleFont, padding: 0 }
        },
        y: {
          type: 'linear', min: o.yMin, max: o.yMax,
          afterBuildTicks: s => { s.ticks = o.yTicks.map(v => ({ value: v })); },
          afterFit: s => { s.width = W; },
          grid: { display: false, drawTicks: false },
          border: { display: false },
          ticks: { autoSkip: false, padding: 3, color: '#1a1a1a', font: tickFont, callback: fmt(o.yDigits) },
          title: { display: true, text: o.yTitle, color: '#1a1a1a', font: titleFont, padding: 0 }
        }
      },
      plugins: {
        legend: { display: false },
        tooltip: { enabled: false },
        frame: { grid: o.grid },
        boxLegend: o.legend || {}
      }
    }
  });
}

const starStyle = { pointRadius: 2.4, backgroundColor: '#000', borderWidth: 0 };
const desStyle = { pointRadius: 6, backgroundColor: '#ff0000', borderWidth: 0, order: 0 };

makePanel('topLeft', { l: 496, t: 139, r: 1045, b: 402 }, {
  titleGap: 79, xMin: -0.1, yMin: -0.06, yMax: 0.06, yTicks: dzWideTicks, yDigits: 2,
  yTitle: '\u0394z(mag)', grid: false,
  datasets: [Object.assign({ label: 'stars', data: pairs(scatterLowPwv, 0.01, 0.001) }, starStyle)]
});

makePanel('topRight', { l: 1237, t: 139, r: 1786, b: 402 }, {
  titleGap: 76, xMin: -0.1, yMin: -0.06, yMax: 0.06, yTicks: dzWideTicks, yDigits: 2,
  yTitle: '\u0394z', grid: false,
  datasets: [Object.assign({ label: 'stars', data: pairs(scatterHighPwv, 0.01, 0.001) }, starStyle)]
});

makePanel('midLeft', { l: 496, t: 481, r: 1045, b: 743 }, {
  titleGap: 85, xMin: -0.1, yMin: -0.01, yMax: 0.01, yTicks: dzLowTicks, yDigits: 3,
  yTitle: '\u0394z(mag)', grid: true,
  legend: { order: [0], width: 172 },
  datasets: [
    Object.assign({ label: 'DES Observation', data: zip(desGi, desDzLowPwv, 0.001), errors: desErrLowPwv.map(e => e * 0.001) }, desStyle),
    { label: 'NGSL fit', data: zip(fitGiLowPwv, fitDzLowPwv, 0.001), showLine: true, borderColor: '#1a8a1a', borderWidth: 1.5, pointRadius: 0, order: 1 }
  ]
});

makePanel('midRight', { l: 1237, t: 481, r: 1786, b: 743 }, {
  titleGap: 85, xMin: 0, yMin: -0.005, yMax: 0.015, yTicks: dzHighTicks, yDigits: 3,
  yTitle: '\u0394z(mag)', grid: true,
  legend: { order: [2, 1, 0], width: 173 },
  datasets: [
    Object.assign({ label: 'DES Observation', data: zip(desGi, desDzHighPwv, 0.001), errors: desErrHighPwv.map(e => e * 0.001) }, desStyle),
    { label: 'NGSL fit', data: zip(fitGiHighPwv, fitDzHighPwv, 0.001), showLine: true, cubicInterpolationMode: 'monotone', borderColor: '#2a952a', borderWidth: 2, pointRadius: 0, order: 1 },
    { label: 'NGSL', data: pairs(ngslStars, 1, 0.001), pointRadius: 3.6, borderColor: '#2f2fff', backgroundColor: 'rgba(0,0,0,0)', borderWidth: 1.4, order: 2 }
  ]
});

makePanel('botLeft', { l: 495, t: 820, r: 1045, b: 1085 }, {
  titleGap: 44, xMin: -0.1, yMin: -7, yMax: 7, yTicks: residTicks, yDigits: 0,
  yTitle: 'residual(mmag)', grid: true,
  datasets: [Object.assign({ label: 'DES Observation', data: zip(desGi, residLowPwv, 1), errors: residErrLowPwv }, desStyle)]
});

makePanel('botRight', { l: 1237, t: 820, r: 1786, b: 1085 }, {
  titleGap: 43, xMin: -0.1, yMin: -7, yMax: 7, yTicks: residTicks, yDigits: 0,
  yTitle: 'residual(mmag)', grid: true,
  datasets: [Object.assign({ label: 'DES Observation', data: zip(desGi, residHighPwv, 1), errors: residErrHighPwv }, desStyle)]
});
</script>
</body>
</html>
